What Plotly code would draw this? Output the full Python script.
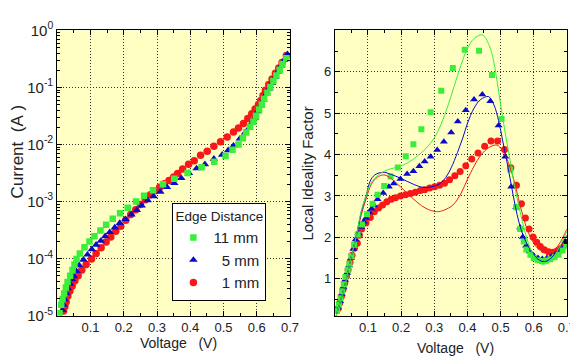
import plotly.graph_objects as go
from plotly.subplots import make_subplots

# ---------------- Left panel: I-V data (Voltage V, Current A) ----------------
v_iv_11 = [0.007, 0.012, 0.016, 0.021, 0.026, 0.031, 0.039, 0.046, 0.052, 0.058, 0.068, 0.082, 0.097,
           0.112, 0.130, 0.147, 0.167, 0.189, 0.212, 0.237, 0.261, 0.288, 0.318, 0.352, 0.392, 0.434,
           0.472, 0.506, 0.527, 0.545, 0.558, 0.568, 0.580, 0.590, 0.598, 0.607, 0.615, 0.622, 0.632,
           0.641, 0.650, 0.659, 0.669, 0.677, 0.689]
i_iv_11 = [1.1e-5, 1.55e-5, 1.95e-5, 2.45e-5, 3.1e-5, 3.9e-5, 5.0e-5, 6.3e-5, 7.9e-5, 9.8e-5, 1.23e-4,
           1.58e-4, 2.0e-4, 2.45e-4, 3.1e-4, 3.9e-4, 5.0e-4, 6.2e-4, 7.8e-4, 1.0e-3, 1.26e-3, 1.58e-3,
           2.0e-3, 2.5e-3, 3.15e-3, 4.0e-3, 5.0e-3, 6.3e-3, 8.1e-3, 1.0e-2, 1.29e-2, 1.62e-2, 2.04e-2,
           2.5e-2, 3.2e-2, 4.1e-2, 5.0e-2, 6.3e-2, 8.1e-2, 0.102, 0.129, 0.162, 0.204, 0.257, 0.324]

v_iv_5 = [0.016, 0.019, 0.023, 0.028, 0.032, 0.039, 0.045, 0.050, 0.058, 0.066, 0.079, 0.091, 0.104,
          0.117, 0.131, 0.144, 0.158, 0.173, 0.188, 0.205, 0.223, 0.239, 0.254, 0.272, 0.290, 0.310,
          0.330, 0.352, 0.373, 0.396, 0.419, 0.444, 0.471, 0.496, 0.514, 0.530, 0.549, 0.565, 0.577,
          0.585, 0.595, 0.603, 0.613, 0.620, 0.628, 0.637, 0.646, 0.655, 0.664, 0.673, 0.682, 0.692]
i_iv_5 = [1.25e-5, 1.55e-5, 1.9e-5, 2.45e-5, 3.0e-5, 3.6e-5, 4.3e-5, 4.9e-5, 6.0e-5, 7.6e-5, 9.5e-5,
          1.17e-4, 1.45e-4, 1.74e-4, 2.04e-4, 2.45e-4, 2.9e-4, 3.5e-4, 4.2e-4, 4.9e-4, 5.9e-4, 7.1e-4,
          8.5e-4, 1.05e-3, 1.23e-3, 1.48e-3, 1.78e-3, 2.1e-3, 2.57e-3, 3.16e-3, 3.8e-3, 4.5e-3, 5.6e-3,
          6.6e-3, 7.9e-3, 9.5e-3, 1.26e-2, 1.62e-2, 1.95e-2, 2.4e-2, 2.95e-2, 3.8e-2, 4.8e-2, 6.0e-2,
          7.6e-2, 9.5e-2, 0.12, 0.151, 0.19, 0.24, 0.30, 0.38]

v_iv_1 = [0.019, 0.023, 0.027, 0.032, 0.038, 0.045, 0.053, 0.063, 0.074, 0.087, 0.103, 0.117, 0.132,
          0.147, 0.161, 0.176, 0.191, 0.206, 0.221, 0.236, 0.250, 0.265, 0.280, 0.294, 0.308, 0.322,
          0.336, 0.350, 0.362, 0.377, 0.395, 0.412, 0.431, 0.451, 0.471, 0.491, 0.511, 0.530, 0.545,
          0.560, 0.573, 0.585, 0.595, 0.605, 0.612, 0.619, 0.626, 0.636, 0.646, 0.656, 0.666, 0.676,
          0.689]
i_iv_1 = [1.2e-5, 1.45e-5, 1.74e-5, 2.2e-5, 2.7e-5, 3.3e-5, 4.1e-5, 5.0e-5, 6.3e-5, 7.9e-5, 9.8e-5,
          1.23e-4, 1.55e-4, 1.95e-4, 2.4e-4, 3.0e-4, 3.7e-4, 4.7e-4, 5.9e-4, 7.2e-4, 8.9e-4, 1.07e-3,
          1.32e-3, 1.55e-3, 1.78e-3, 2.04e-3, 2.34e-3, 2.69e-3, 3.1e-3, 3.7e-3, 4.5e-3, 5.2e-3, 6.5e-3,
          7.6e-3, 9.3e-3, 1.12e-2, 1.35e-2, 1.66e-2, 1.95e-2, 2.34e-2, 2.85e-2, 3.47e-2, 4.2e-2, 5.0e-2,
          5.9e-2, 7.2e-2, 8.9e-2, 0.112, 0.141, 0.178, 0.219, 0.272, 0.363]

# ---------------- Right panel: local ideality factor ----------------
v_n_11 = [0.007, 0.012, 0.017, 0.022, 0.027, 0.032, 0.039, 0.044, 0.050, 0.058, 0.069, 0.082, 0.097,
          0.114, 0.129, 0.149, 0.168, 0.190, 0.214, 0.237, 0.261, 0.289, 0.321, 0.356, 0.392, 0.435,
          0.474, 0.503, 0.529, 0.547, 0.559, 0.570, 0.578, 0.590, 0.600, 0.612, 0.625, 0.638, 0.650,
          0.663, 0.675, 0.687, 0.698]
n_11 = [0.23, 0.38, 0.53, 0.70, 0.87, 1.04, 1.21, 1.36, 1.55, 1.82, 2.07, 2.31, 2.56, 2.81, 3.03,
        3.24, 3.47, 3.69, 3.96, 4.25, 4.61, 5.02, 5.54, 6.09, 6.53, 6.51, 5.92, 4.86, 3.64, 2.73, 2.20,
        1.90, 1.71, 1.58, 1.50, 1.45, 1.43, 1.44, 1.47, 1.52, 1.58, 1.68, 1.80]

v_n_5 = [0.010, 0.016, 0.021, 0.026, 0.031, 0.037, 0.043, 0.049, 0.056, 0.063, 0.071, 0.079, 0.087,
         0.094, 0.104, 0.111, 0.118, 0.129, 0.146, 0.163, 0.178, 0.198, 0.218, 0.237, 0.255, 0.271,
         0.289, 0.309, 0.329, 0.351, 0.371, 0.395, 0.420, 0.445, 0.469, 0.494, 0.514, 0.532, 0.547,
         0.559, 0.567, 0.577, 0.588, 0.600, 0.613, 0.626, 0.640, 0.653, 0.667, 0.680, 0.693]
n_5 = [0.30, 0.46, 0.63, 0.80, 0.97, 1.14, 1.32, 1.50, 1.72, 1.95, 2.10, 2.25, 2.38, 2.47, 2.60,
       2.69, 2.77, 2.92, 3.07, 3.22, 3.30, 3.41, 3.53, 3.60, 3.72, 3.83, 3.95, 4.11, 4.31, 4.53, 4.80,
       5.07, 5.33, 5.45, 5.29, 4.70, 3.95, 3.22, 2.73, 2.24, 2.01, 1.80, 1.66, 1.56, 1.50, 1.48, 1.50,
       1.54, 1.60, 1.68, 1.78]

v_n_1 = [0.010, 0.015, 0.020, 0.025, 0.030, 0.035, 0.040, 0.046, 0.052, 0.059, 0.068, 0.074, 0.081,
         0.094, 0.107, 0.119, 0.132, 0.144, 0.157, 0.170, 0.183, 0.198, 0.213, 0.228, 0.243, 0.258,
         0.271, 0.286, 0.301, 0.316, 0.331, 0.346, 0.362, 0.378, 0.395, 0.413, 0.432, 0.452, 0.471,
         0.491, 0.512, 0.531, 0.548, 0.563, 0.575, 0.586, 0.598, 0.609, 0.620, 0.632, 0.645, 0.658,
         0.670, 0.682, 0.694]
n_1 = [0.28, 0.42, 0.58, 0.74, 0.90, 1.06, 1.22, 1.40, 1.57, 1.74, 1.86, 2.05, 2.20, 2.35, 2.48,
       2.62, 2.71, 2.78, 2.86, 2.92, 2.96, 3.00, 3.03, 3.06, 3.09, 3.13, 3.15, 3.19, 3.22, 3.26, 3.31,
       3.39, 3.49, 3.59, 3.73, 3.89, 4.04, 4.20, 4.33, 4.33, 4.12, 3.68, 3.26, 2.81, 2.47, 2.20, 2.01,
       1.88, 1.78, 1.70, 1.65, 1.64, 1.67, 1.73, 1.82]

# model curves
v_fit_11 = [0.004, 0.020, 0.035, 0.050, 0.064, 0.080, 0.094, 0.105, 0.119, 0.135, 0.150, 0.170,
            0.190, 0.220, 0.250, 0.275, 0.300, 0.321, 0.340, 0.360, 0.380, 0.400, 0.420, 0.445, 0.465,
            0.479, 0.490, 0.499, 0.510, 0.519, 0.530, 0.539, 0.549, 0.559, 0.570, 0.578, 0.590, 0.603,
            0.615, 0.625, 0.640, 0.655, 0.670, 0.685, 0.700]
n_fit_11 = [0.11, 0.55, 1.00, 1.55, 2.00, 2.65, 3.00, 3.25, 3.42, 3.53, 3.60, 3.66, 3.70, 3.80,
            3.97, 4.15, 4.40, 4.74, 5.15, 5.65, 6.15, 6.56, 6.80, 6.89, 6.65, 6.26, 5.75, 5.27, 4.72,
            4.29, 3.80, 3.38, 2.98, 2.62, 2.25, 2.01, 1.72, 1.52, 1.40, 1.35, 1.37, 1.47, 1.65, 1.88,
            2.15]

v_fit_5 = [0.004, 0.020, 0.035, 0.050, 0.064, 0.080, 0.094, 0.109, 0.125, 0.149, 0.170, 0.198,
           0.238, 0.265, 0.290, 0.317, 0.335, 0.351, 0.370, 0.386, 0.400, 0.420, 0.440, 0.464, 0.480,
           0.494, 0.506, 0.519, 0.532, 0.544, 0.556, 0.569, 0.584, 0.598, 0.612, 0.625, 0.640, 0.655,
           0.670, 0.685, 0.700]
n_fit_5 = [0.11, 0.55, 1.00, 1.55, 2.00, 2.62, 3.00, 3.40, 3.53, 3.57, 3.52, 3.43, 3.28, 3.21,
           3.22, 3.30, 3.45, 3.68, 4.05, 4.40, 4.75, 5.12, 5.33, 5.40, 5.20, 4.82, 4.35, 3.83, 3.28,
           2.77, 2.35, 2.03, 1.78, 1.60, 1.48, 1.42, 1.43, 1.52, 1.66, 1.84, 2.05]

v_fit_1 = [0.004, 0.020, 0.035, 0.050, 0.064, 0.080, 0.095, 0.110, 0.128, 0.147, 0.165, 0.198,
           0.225, 0.248, 0.275, 0.307, 0.330, 0.356, 0.380, 0.400, 0.420, 0.440, 0.465, 0.489, 0.505,
           0.519, 0.530, 0.539, 0.549, 0.559, 0.569, 0.578, 0.590, 0.605, 0.620, 0.635, 0.650, 0.665,
           0.680, 0.700]
n_fit_1 = [0.11, 0.55, 1.00, 1.55, 2.00, 2.55, 2.95, 3.28, 3.45, 3.51, 3.45, 3.22, 3.02, 2.85,
           2.70, 2.62, 2.66, 2.78, 3.05, 3.40, 3.72, 3.98, 4.17, 4.23, 4.10, 3.90, 3.65, 3.42, 3.10,
           2.77, 2.48, 2.24, 2.00, 1.80, 1.68, 1.62, 1.63, 1.72, 1.88, 2.20]

v_extra = [0.698]
n_extra = [1.90]

series_names = ["11 mm", "\u20075 mm", "\u20071 mm"]
x_ticks = [0.1, 0.2, 0.3, 0.4, 0.5, 0.6, 0.7]
y_log_ticks = [1e0, 1e-1, 1e-2, 1e-3, 1e-4, 1e-5]
y_log_text = ["10<sup>0</sup>", "10<sup>-1</sup>", "10<sup>-2</sup>", "10<sup>-3</sup>",
              "10<sup>-4</sup>", "10<sup>-5</sup>"]
n_ticks = [1, 2, 3, 4, 5, 6]

GREEN = "#3AEE3A"
BLUE = "#0A0ACC"
RED = "#F81818"
BG = "#FFFFC4"
FONT = "Liberation Sans, Arial, sans-serif"

fig = make_subplots(rows=1, cols=2)

# left panel (draw order: red, blue, green on top)
fig.add_trace(go.Scatter(x=v_iv_1, y=i_iv_1, mode="markers", name=series_names[2], legendrank=3,
                         marker=dict(symbol="circle", size=7.5, color=RED)), row=1, col=1)
fig.add_trace(go.Scatter(x=v_iv_5, y=i_iv_5, mode="markers", name=series_names[1], legendrank=2,
                         marker=dict(symbol="triangle-up", size=7.5, color=BLUE)), row=1, col=1)
fig.add_trace(go.Scatter(x=v_iv_11, y=i_iv_11, mode="markers", name=series_names[0], legendrank=1,
                         marker=dict(symbol="square", size=6.5, color=GREEN)), row=1, col=1)

# right panel markers
fig.add_trace(go.Scatter(x=v_n_1, y=n_1, mode="markers", showlegend=False,
                         marker=dict(symbol="circle", size=7, color=RED)), row=1, col=2)
fig.add_trace(go.Scatter(x=v_n_5, y=n_5, mode="markers", showlegend=False,
                         marker=dict(symbol="triangle-up", size=7, color=BLUE)), row=1, col=2)
fig.add_trace(go.Scatter(x=v_n_11, y=n_11, mode="markers", showlegend=False,
                         marker=dict(symbol="square", size=6, color=GREEN)), row=1, col=2)
fig.add_trace(go.Scatter(x=v_extra, y=n_extra, mode="markers", showlegend=False,
                         marker=dict(symbol="square", size=5, color="black")), row=1, col=2)
# right panel model lines
fig.add_trace(go.Scatter(x=v_fit_1, y=n_fit_1, mode="lines", showlegend=False,
                         line=dict(color=RED, width=1, shape="spline")), row=1, col=2)
fig.add_trace(go.Scatter(x=v_fit_5, y=n_fit_5, mode="lines", showlegend=False,
                         line=dict(color=BLUE, width=1, shape="spline")), row=1, col=2)
fig.add_trace(go.Scatter(x=v_fit_11, y=n_fit_11, mode="lines", showlegend=False,
                         line=dict(color=GREEN, width=1, shape="spline")), row=1, col=2)

W, H = 578, 357
dom_left = [50 / W, 286.5 / W]
dom_right = [332 / W, 567.7 / W]
dom_y = [(H - 313.3) / H, (H - 12) / H]

axis_common = dict(showline=True, linecolor="black", linewidth=1, mirror="ticks",
                   ticks="inside", ticklen=5, tickcolor="black", zeroline=False,
                   showgrid=True, gridcolor="#333333", griddash="1px,2px", gridwidth=1)

fig.update_xaxes(**axis_common, range=[0, 0.7], tickvals=x_ticks, ticktext=[str(t) for t in x_ticks],
                 tickfont=dict(family=FONT, size=13, color="#222"),
                 minor=dict(dtick=0.05, tick0=0, ticks="inside", ticklen=3, tickcolor="black",
                            showgrid=False))
fig.update_xaxes(domain=dom_left, row=1, col=1)
fig.update_xaxes(domain=dom_right, row=1, col=2)

fig.update_yaxes(**axis_common, row=1, col=1, type="log", range=[-5, 0], domain=dom_y,
                 tickvals=y_log_ticks, ticktext=y_log_text,
                 tickfont=dict(family=FONT, size=15, color="#222"),
                 minor=dict(dtick="D1", ticks="inside", ticklen=3, tickcolor="black", showgrid=False))
fig.update_yaxes(**axis_common, row=1, col=2, range=[0.11, 7.0], domain=dom_y,
                 tickvals=n_ticks, ticktext=[str(t) for t in n_ticks],
                 tickfont=dict(family=FONT, size=13, color="#222"),
                 minor=dict(dtick=0.5, tick0=0, ticks="inside", ticklen=3, tickcolor="black",
                            showgrid=False))

annots = [
    dict(text="Current\u00a0\u00a0(A\u00a0)", x=10 / W, y=(H - 140) / H, textangle=-90,
         font=dict(family=FONT, size=17, color="#222")),
    dict(text="Local Ideality Factor", x=304 / W, y=(H - 163) / H, textangle=-90,
         font=dict(family=FONT, size=15, color="#222")),
    dict(text="Voltage\u00a0\u00a0\u00a0(V)", x=173.5 / W, y=(H - 342) / H,
         font=dict(family=FONT, size=14, color="#222")),
    dict(text="Voltage\u00a0\u00a0\u00a0(V)", x=455 / W, y=(H - 348) / H,
         font=dict(family=FONT, size=14, color="#222")),
]
for a in annots:
    a.update(xref="paper", yref="paper", showarrow=False, xanchor="center", yanchor="middle")

fig.update_layout(
    width=W, height=H, margin=dict(l=0, r=0, t=0, b=0),
    paper_bgcolor="white", plot_bgcolor=BG,
    font=dict(family=FONT, color="#222"),
    annotations=annots,
    legend=dict(x=167 / W, y=(H - 194) / H, xanchor="left", yanchor="top",
                bgcolor="white", bordercolor="black", borderwidth=1,
                title=dict(text="Edge Distance", font=dict(family=FONT, size=13.5, color="#222")),
                font=dict(family=FONT, size=15, color="#222"),
                itemwidth=30, tracegroupgap=0),
)

fig.write_html("out.html")
